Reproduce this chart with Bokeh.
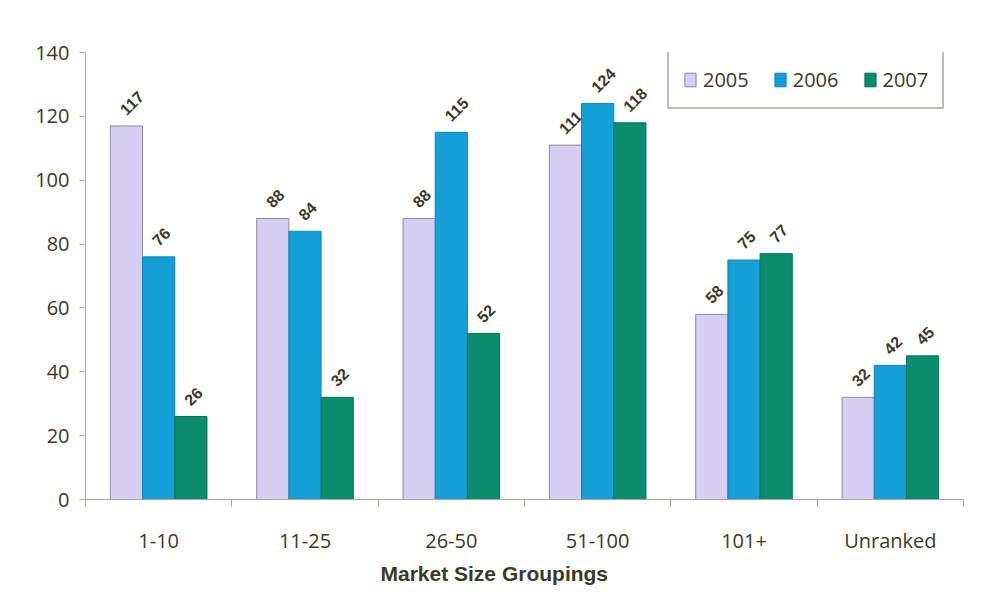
import numpy as np
from bokeh.plotting import figure
from bokeh.models import ColumnDataSource, Range1d, FixedTicker, Title
from bokeh.core.properties import value
from bokeh.embed import file_html
from bokeh.resources import INLINE

categories = ["1-10", "11-25", "26-50", "51-100", "101+", "Unranked"]
years = ["2005", "2006", "2007"]
y2005 = [117, 88, 88, 111, 58, 32]
y2006 = [76, 84, 115, 124, 75, 42]
y2007 = [26, 32, 52, 118, 77, 45]
y_ticks = [0, 20, 40, 60, 80, 100, 120, 140]
x_title = "Market Size Groupings"

fills = ["#d6cef3", "#14a0d6", "#0b8c6c"]
lines = ["#8e8a9e", "#0f86b8", "#08765a"]
txt = "#3a3a26"

p = figure(width=980, height=587, output_backend="svg", toolbar_location=None,
           x_range=Range1d(0, len(categories)), y_range=Range1d(0, 140),
           min_border_left=85, min_border_right=17, min_border_top=52, min_border_bottom=88)
p.outline_line_color = None
p.background_fill_color = "white"
p.border_fill_color = "white"
p.xgrid.visible = False
p.ygrid.visible = False

centers = np.arange(len(categories)) + 0.5
offsets = [-0.22, 0.0, 0.22]
series = [y2005, y2006, y2007]

for yr, vals, off, fc, lc in zip(years, series, offsets, fills, lines):
    src = ColumnDataSource(dict(x=centers + off, top=vals, lab=[str(v) for v in vals]))
    p.vbar(x="x", top="top", width=0.22, source=src, fill_color=fc, line_color=lc,
           line_width=1, legend_label=yr)
    p.text(x="x", y="top", text="lab", source=src, angle=np.pi / 4,
           text_align="left", text_baseline="middle", x_offset=-4, y_offset=-14,
           text_font=value("Liberation Sans"), text_font_style="bold",
           text_font_size="16px", text_color=txt)

# y axis
ya = p.yaxis[0]
ya.ticker = FixedTicker(ticks=y_ticks)
ya.axis_line_color = "#aeae9c"
ya.major_tick_line_color = "#aeae9c"
ya.major_tick_out = 6
ya.major_tick_in = 0
ya.minor_tick_line_color = None
ya.major_label_standoff = 10
ya.major_label_text_font = "Open Sans"
ya.major_label_text_font_size = "20px"
ya.major_label_text_color = txt

# x axis
xa = p.xaxis[0]
xa.ticker = FixedTicker(ticks=list(centers), minor_ticks=list(range(len(categories) + 1)))
xa.major_label_overrides = {float(c): name for c, name in zip(centers, categories)}
xa.axis_line_color = "#a8a8a0"
xa.major_tick_line_color = None
xa.major_tick_out = 0
xa.major_tick_in = 0
xa.minor_tick_line_color = "#a8a8a0"
xa.minor_tick_out = 7
xa.minor_tick_in = 0
xa.major_label_standoff = 20
xa.major_label_text_font = "Open Sans"
xa.major_label_text_font_size = "20px"
xa.major_label_text_color = txt

ttl = Title(text=x_title, align="left", offset=295, standoff=6,
            text_font="Liberation Sans", text_font_style="bold",
            text_font_size="21px", text_color=txt)
p.add_layout(ttl, "below")

lg = p.legend[0]
lg.orientation = "horizontal"
lg.location = (582, 390)
lg.padding = 14
lg.margin = 0
lg.spacing = 24
lg.label_standoff = 6
lg.glyph_width = 14
lg.glyph_height = 17
lg.border_line_color = "#7b7b6b"
lg.border_line_width = 2
lg.background_fill_color = "white"
lg.background_fill_alpha = 1
lg.label_text_font = "Open Sans"
lg.label_text_font_size = "20px"
lg.label_text_color = txt

open("out.html", "w").write(file_html(p, INLINE))
